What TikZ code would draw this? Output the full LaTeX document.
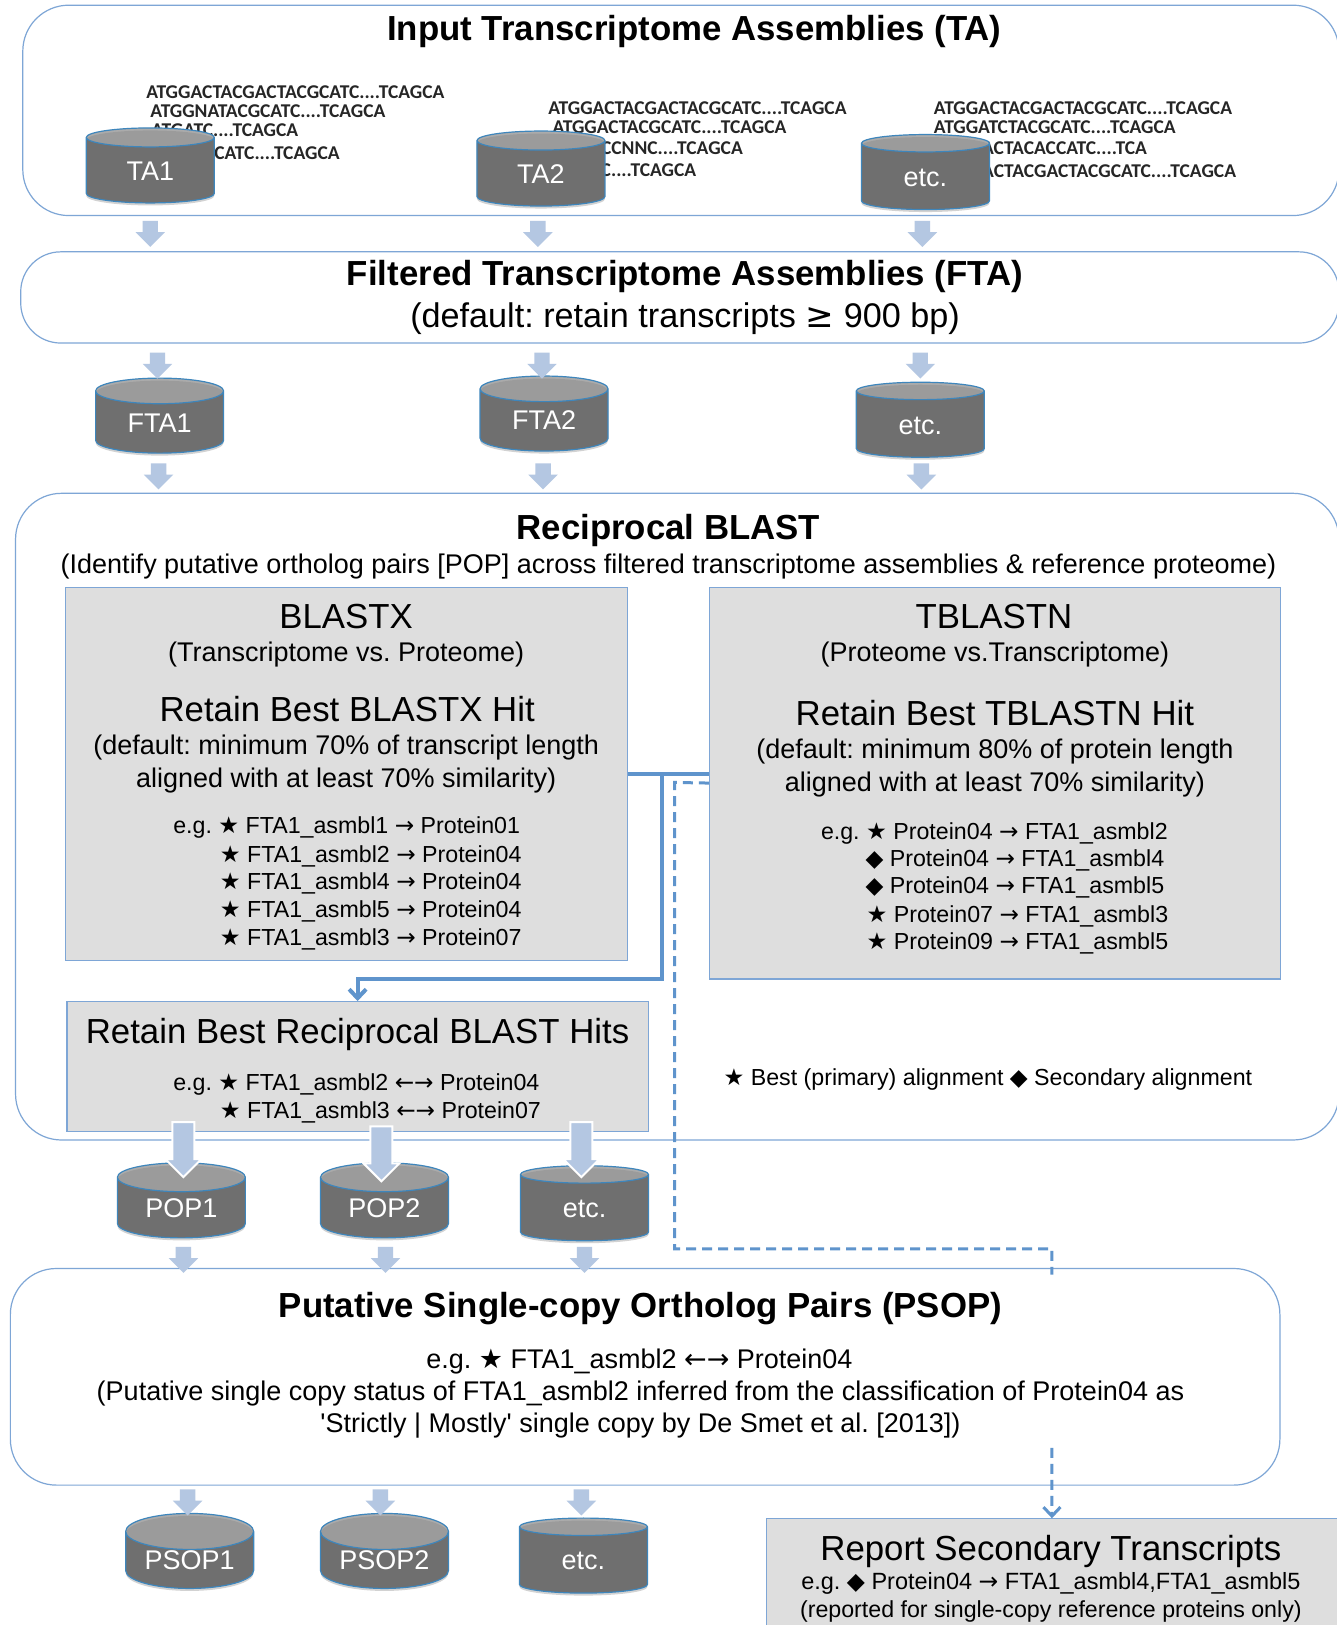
\documentclass[tikz,border=0pt]{standalone}
\usepackage{fontspec}
\setmainfont{Liberation Sans}
\newfontfamily\symf{DejaVu Sans}
\newfontfamily\dnaf{Carlito}
\usetikzlibrary{shapes.geometric,shapes.arrows,shadows,arrows.meta}
\definecolor{edgeblue}{HTML}{7EA6D6}
\definecolor{linkblue}{HTML}{5F94CC}
\definecolor{cylblue}{HTML}{3E86BC}
\definecolor{cylbody}{HTML}{666666}
\definecolor{cyltop}{HTML}{ABABAB}
\definecolor{arrowblue}{HTML}{B4C7E2}
\definecolor{panelgrey}{HTML}{DEDEDE}
\newcommand{\fsz}[1]{\fontsize{#1}{#1}\selectfont}
\newcommand{\mystar}{{\symf ★}}
\newcommand{\mydia}{{\symf ◆}}
\newcommand{\myra}{{\symf →}}
\newcommand{\mylr}{{\symf ←→}}
\frenchspacing
\tikzset{
  x=1.03643pt,y=-1.03643pt,
  roundbox/.style={draw=edgeblue,line width=1.2pt,fill=white},
  panel/.style={draw=edgeblue,line width=1.2pt,fill=panelgrey},
  dbcyl/.style={cylinder,shape border rotate=90,aspect=0.4,draw=cylblue,line width=1.2pt,
    minimum width=128pt,minimum height=75pt,inner sep=0pt,text height=19.5pt,text depth=0pt,
    cylinder uses custom fill,cylinder body fill=cylbody,cylinder end fill=cyltop,
    text=white,font=\fsz{27},
    drop shadow={opacity=.35,shadow xshift=0pt,shadow yshift=-2.5pt}},
  smallarrow/.style={single arrow,shape border rotate=270,fill=arrowblue,draw=none,
    minimum width=29pt,minimum height=26pt,single arrow head extend=7pt,single arrow head indent=0pt,inner sep=7.5pt},
  bigarrow/.style={single arrow,shape border rotate=270,fill=arrowblue,draw=white,line width=2pt,
    minimum width=34pt,minimum height=55pt,single arrow head extend=7pt,single arrow head indent=0pt,inner sep=10pt},
  ttl/.style={inner sep=0pt,font=\fsz{34.8}\bfseries,text height=24.5pt,text depth=0pt},
  bigt/.style={inner sep=0pt,font=\fsz{34.8},text height=24.5pt,text depth=0pt},
  midt/.style={inner sep=0pt,font=\fsz{27},text height=19.5pt,text depth=0pt},
  subt/.style={inner sep=0pt,font=\fsz{27},text height=19.5pt,text depth=0pt},
  listt/.style={inner sep=0pt,anchor=west,font=\fsz{23.2},text height=17pt,text depth=0pt},
  dna/.style={inner sep=0pt,font=\fsz{19.5}\dnaf\bfseries,text=black!85,text height=12.5pt,text depth=0pt},
  solidlink/.style={draw=linkblue,line width=4pt},
  dashlink/.style={draw=linkblue,line width=3pt,dash pattern=on 10pt off 6pt},
}
\begin{document}
\begin{tikzpicture}
\useasboundingbox (0,0) rectangle (1290,1568);
\fill[white] (0,0) rectangle (1290,1568);
% rounded frames
\draw[roundbox,rounded corners=46pt] (22,5) rectangle (1292,208);
\draw[roundbox,rounded corners=40pt] (20,243) rectangle (1292,331);
\draw[roundbox,rounded corners=46pt] (15,476) rectangle (1292,1100);
\draw[roundbox,rounded corners=46pt] (10,1224) rectangle (1235,1433);
% panels
\node[panel,anchor=north west,minimum width=561.7pt,minimum height=373.1pt,inner sep=0pt] (blastx) at (63,566) {};
\node[panel,anchor=north west,minimum width=571pt,minimum height=391.8pt,inner sep=0pt] (tblastn) at (684,566) {};
\node[panel,anchor=north west,minimum width=581.4pt,minimum height=129.5pt,inner sep=0pt] (recip) at (64,966) {};
\node[panel,anchor=north west,minimum width=571pt,minimum height=130pt,inner sep=0pt] (report) at (739,1465) {};
% DNA
\node[dna,anchor=west] (d11) at (141,89) {ATGGACTACGACTACGCATC....TCAGCA};
\node[dna,anchor=west] (d12) at (145,107) {ATGGNATACGCATC....TCAGCA};
\node[dna,anchor=east] (d13) at (288,126) {ATGATC....TCAGCA};
\node[dna,anchor=east] (d14) at (328,148) {TACGCATC....TCAGCA};
\node[dna,anchor=west] (d21) at (529,104) {ATGGACTACGACTACGCATC....TCAGCA};
\node[dna,anchor=west] (d22) at (533,123) {ATGGACTACGCATC....TCAGCA};
\node[dna,anchor=east] (d23) at (717,143) {GACCNNC....TCAGCA};
\node[dna,anchor=east] (d24) at (672,164) {ATC....TCAGCA};
\node[dna,anchor=west] (d31) at (901,104) {ATGGACTACGACTACGCATC....TCAGCA};
\node[dna,anchor=west] (d32) at (901,123) {ATGGATCTACGCATC....TCAGCA};
\node[dna,anchor=east] (d33) at (1107,143) {GACTACACCATC....TCA};
\node[dna,anchor=east] (d34) at (1193,165) {GACTACGACTACGCATC....TCAGCA};
% cylinders
\node[dbcyl] (ta1) at (145,164.5) {TA1};
\node[dbcyl] (ta2) at (522,167.5) {TA2};
\node[dbcyl] (ta3) at (893,170.5) {etc.};
\node[dbcyl] (fta1) at (154,407.5) {FTA1};
\node[dbcyl] (fta2) at (525,405.5) {FTA2};
\node[dbcyl] (fta3) at (888,409.5) {etc.};
\node[dbcyl] (pop1) at (175,1165.5) {POP1};
\node[dbcyl] (pop2) at (371,1165.5) {POP2};
\node[dbcyl] (pop3) at (564,1165.5) {etc.};
\node[dbcyl] (psop1) at (183,1505.5) {PSOP1};
\node[dbcyl] (psop2) at (371,1505.5) {PSOP2};
\node[dbcyl] (psop3) at (563,1505.5) {etc.};
% block arrows
\node[smallarrow] (a1) at (145,222) {};
\node[smallarrow] (a2) at (519,222) {};
\node[smallarrow] (a3) at (890,222) {};
\node[smallarrow] (a4) at (152,349) {};
\node[smallarrow] (a5) at (523,349) {};
\node[smallarrow] (a6) at (888,349) {};
\node[smallarrow] (a7) at (153,456) {};
\node[smallarrow] (a8) at (524,456) {};
\node[smallarrow] (a9) at (889,456) {};
\node[bigarrow] (b1) at (177,1104) {};
\node[bigarrow] (b2) at (368,1108) {};
\node[bigarrow] (b3) at (561,1104) {};
\node[smallarrow] (c1) at (177,1212) {};
\node[smallarrow] (c2) at (372,1212) {};
\node[smallarrow] (c3) at (564,1212) {};
\node[smallarrow] (e1) at (181,1446) {};
\node[smallarrow] (e2) at (367,1446) {};
\node[smallarrow] (e3) at (561,1446) {};
% connectors
\coordinate (jn) at (639,746);
\coordinate (jb) at (639,945);
\coordinate (dtop) at (651,755);
\coordinate (dbot) at (651,1205);
\coordinate (dend) at (1015,1205);
\coordinate (dfoot) at (1015,1230);
\coordinate (dstart) at (1015,1397);
\draw[solidlink] (blastx.east) -- (blastx.east -| tblastn.west);
\draw[solidlink,-{Straight Barb[length=9pt,width=17pt]}] (jn) -- (jb) -| (recip.north);
\draw[dashlink] (tblastn.west) -- (dtop) -- (dbot) -- (dend) -- (dfoot);
\draw[dashlink,-{Straight Barb[length=9pt,width=17pt]}] (dstart) -- (report.north);
% titles
\node[ttl] (tta) at (670,27) {Input Transcriptome Assemblies (TA)};
\node[ttl] (tfta) at (661,264) {Filtered Transcriptome Assemblies (FTA)};
\node[bigt,font=\fsz{34.2}] (tfta2) at (661,304) {(default: retain transcripts {\symf ≥} 900 bp)};
\node[ttl] (tbl) at (645,509) {Reciprocal BLAST};
\node[subt] (tbl2) at (645,544) {(Identify putative ortholog pairs [POP] across filtered transcriptome assemblies \& reference proteome)};
% BLASTX
\node[bigt] (x1) at (334,595) {BLASTX};
\node[midt] (x2) at (334,629) {(Transcriptome vs. Proteome)};
\node[bigt] (x3) at (335,684) {Retain Best BLASTX Hit};
\node[midt] (x4) at (334,719) {(default: minimum 70\% of transcript length};
\node[midt] (x5) at (334,750) {aligned with at least 70\% similarity)};
\node[listt] (x6) at (167,796) {e.g. \mystar\ FTA1\_asmbl1 \myra\ Protein01};
\node[listt] (x7) at (212,824) {\mystar\ FTA1\_asmbl2 \myra\ Protein04};
\node[listt] (x8) at (212,850) {\mystar\ FTA1\_asmbl4 \myra\ Protein04};
\node[listt] (x9) at (212,877) {\mystar\ FTA1\_asmbl5 \myra\ Protein04};
\node[listt] (x10) at (212,904) {\mystar\ FTA1\_asmbl3 \myra\ Protein07};
% TBLASTN
\node[bigt] (n1) at (959,595) {TBLASTN};
\node[midt] (n2) at (960,629) {(Proteome vs.Transcriptome)};
\node[bigt] (n3) at (960,688) {Retain Best TBLASTN Hit};
\node[midt] (n4) at (960,722) {(default: minimum 80\% of protein length};
\node[midt] (n5) at (960,754) {aligned with at least 70\% similarity)};
\node[listt] (n6) at (792,802) {e.g. \mystar\ Protein04 \myra\ FTA1\_asmbl2};
\node[listt] (n7) at (835,828) {\mydia\ Protein04 \myra\ FTA1\_asmbl4};
\node[listt] (n8) at (835,854) {\mydia\ Protein04 \myra\ FTA1\_asmbl5};
\node[listt] (n9) at (836,882) {\mystar\ Protein07 \myra\ FTA1\_asmbl3};
\node[listt] (n10) at (836,908) {\mystar\ Protein09 \myra\ FTA1\_asmbl5};
% reciprocal
\node[bigt] (r1) at (345,995) {Retain Best Reciprocal BLAST Hits};
\node[listt] (r2) at (167,1044) {e.g. \mystar\ FTA1\_asmbl2 \mylr\ Protein04};
\node[listt] (r3) at (212,1071) {\mystar\ FTA1\_asmbl3 \mylr\ Protein07};
\node[listt] (leg) at (698,1039) {\mystar\ Best (primary) alignment \mydia\ Secondary alignment};
% PSOP
\node[ttl] (p1) at (618,1259) {Putative Single-copy Ortholog Pairs (PSOP)};
\node[midt] (p2) at (617,1311) {e.g. \mystar\ FTA1\_asmbl2 \mylr\ Protein04};
\node[midt] (p3) at (618,1342) {(Putative single copy status of FTA1\_asmbl2 inferred from the classification of Protein04 as};
\node[midt] (p4) at (618,1373) {\textquotesingle Strictly | Mostly\textquotesingle\ single copy by De Smet et al. [2013])};
% report
\node[bigt] (q1) at (1014,1494) {Report Secondary Transcripts};
\node[midt,font=\fsz{23.5},text height=17pt] (q2) at (1014,1526) {e.g. \mydia\ Protein04 \myra\ FTA1\_asmbl4,FTA1\_asmbl5};
\node[midt,font=\fsz{23.2},text height=17pt] (q3) at (1014,1553) {(reported for single-copy reference proteins only)};
\end{tikzpicture}
\end{document}
